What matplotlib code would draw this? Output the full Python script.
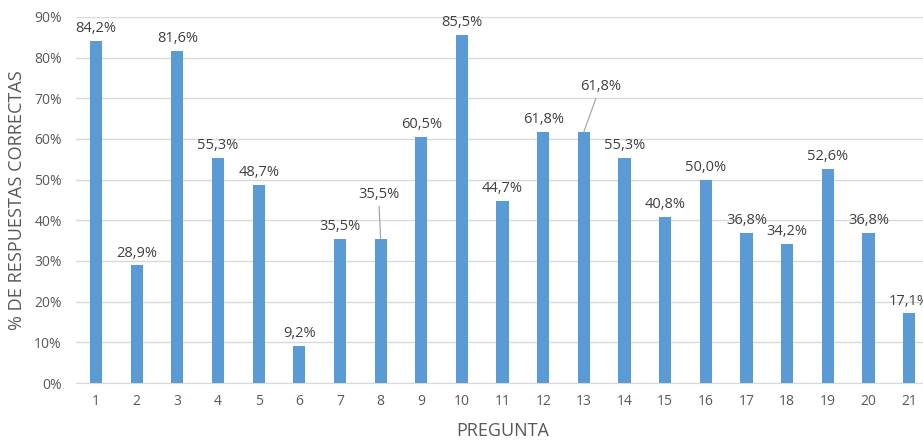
import matplotlib
matplotlib.use("Agg")
import matplotlib.pyplot as plt
from matplotlib.ticker import FuncFormatter, MultipleLocator

preguntas = [str(i) for i in range(1, 22)]
porcentajes = [84.2, 28.9, 81.6, 55.3, 48.7, 9.2, 35.5, 35.5, 60.5, 85.5, 44.7,
               61.8, 61.8, 55.3, 40.8, 50.0, 36.8, 34.2, 52.6, 36.8, 17.1]

plt.rcParams['font.family'] = ['Open Sans', 'DejaVu Sans']
gris = '#595959'
gris_osc = '#404040'
azul = '#5B9BD5'

fig = plt.figure(figsize=(9.23, 4.4), dpi=100)
ax = fig.add_axes([0.082, 0.1295, 0.925, 0.832])

x = list(range(len(preguntas)))
ax.bar(x, porcentajes, width=0.3, color=azul, zorder=3)

ax.set_xlim(-0.5, len(preguntas) - 0.5)
ax.set_ylim(0, 90)
ax.yaxis.set_major_locator(MultipleLocator(10))
ax.yaxis.set_major_formatter(FuncFormatter(lambda v, p: f"{v:.0f}%"))
ax.set_xticks(x)
ax.set_xticklabels(preguntas)
ax.grid(axis='y', color='#D9D9D9', linewidth=1, zorder=0)
for s in ['top', 'right', 'left']:
    ax.spines[s].set_visible(False)
ax.spines['bottom'].set_color('#D9D9D9')
ax.tick_params(axis='both', length=0, labelsize=10, labelcolor=gris, pad=8)
ax.tick_params(axis='y', pad=10)

ax.set_xlabel('PREGUNTA', fontsize=13, color=gris, labelpad=9)
ax.set_ylabel('% DE RESPUESTAS CORRECTAS', fontsize=13.1, color=gris)
ax.yaxis.set_label_coords(-0.058, 0.5)

# etiquetas de valor; algunas desplazadas con línea guía
desplazadas = {7: (-0.05, 9.0), 12: (0.4, 9.2)}
for i, v in enumerate(porcentajes):
    txt = f"{v:.1f}%".replace('.', ',')
    if i in desplazadas:
        dx, dy = desplazadas[i]
        ax.annotate(txt, xy=(i, v), xytext=(i + dx, v + dy), ha='center', va='bottom',
                    fontsize=10.5, color=gris_osc, clip_on=False,
                    arrowprops=dict(arrowstyle='-', color='#A6A6A6', lw=0.9,
                                    shrinkA=1, shrinkB=0))
    else:
        ax.text(i, v + 1.2, txt, ha='center', va='bottom', fontsize=10.5, color=gris_osc)

fig.savefig('out.png', dpi=100)
